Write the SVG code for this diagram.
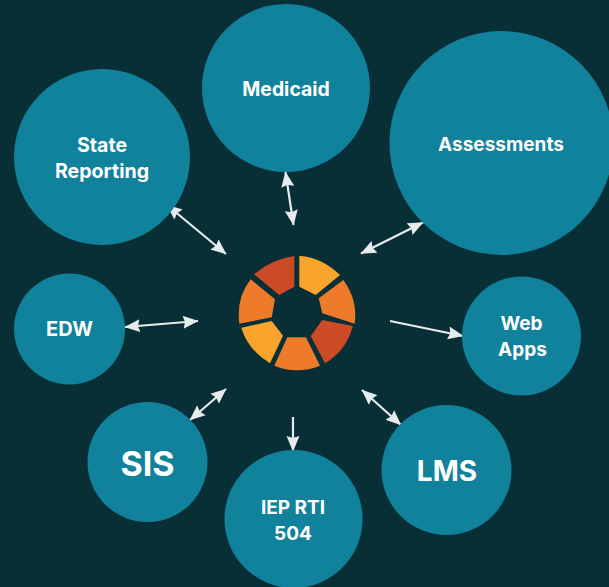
<svg xmlns="http://www.w3.org/2000/svg" width="609" height="587" viewBox="0 0 609 587">
<style>
.c{fill:#11829c}
.t{fill:#fff;font-family:"Inter","Liberation Sans",sans-serif;font-weight:700;text-anchor:middle}
.a{stroke:#e6eced;stroke-width:2.2;fill:none;marker-start:url(#h);marker-end:url(#h)}
.b{stroke:#e6eced;stroke-width:2.2;fill:none;marker-end:url(#h)}
.r{fill:#cc4a26}.o{fill:#ee7b2a}.y{fill:#f9a42c}
</style>
<defs>
<marker id="h" markerUnits="userSpaceOnUse" markerWidth="16" markerHeight="14" viewBox="0 0 16 14" refX="15" refY="7" orient="auto-start-reverse">
<path d="M0 0.5 L15.5 7 L0 13.5 L2 7Z" fill="#e6eced"/>
</marker>
</defs>
<rect width="609" height="587" fill="#082f36"/>
<g id="connectors">
<line class="a" x1="167" y1="205" x2="226" y2="254"/>
<line class="a" x1="285.5" y1="172" x2="293.5" y2="225"/>
<line class="a" x1="423" y1="222.5" x2="361" y2="253.5"/>
<line class="b" x1="390" y1="321" x2="463" y2="336"/>
<line class="a" x1="362" y1="390" x2="401" y2="425"/>
<line class="b" x1="293" y1="417" x2="293" y2="451"/>
<line class="a" x1="190" y1="420" x2="226" y2="389"/>
<line class="a" x1="125" y1="327" x2="198" y2="321"/>
</g>
<g id="medicaid"><circle class="c" cx="286" cy="88" r="84"/><text class="t" x="286" y="95.5" font-size="19.4">Medicaid</text></g>
<g id="assessments"><circle class="c" cx="501.5" cy="143" r="112"/><text class="t" x="501" y="151" font-size="19">Assessments</text></g>
<g id="state-reporting"><circle class="c" cx="102" cy="157" r="88"/><text class="t" x="102" y="152" font-size="19.6">State</text><text class="t" x="102" y="178" font-size="19.6">Reporting</text></g>
<g id="edw"><circle class="c" cx="69.5" cy="329" r="55.5"/><text class="t" x="69.5" y="336" font-size="20">EDW</text></g>
<g id="web-apps"><circle class="c" cx="521.5" cy="336" r="59.5"/><text class="t" x="521.5" y="330" font-size="19">Web</text><text class="t" x="522.5" y="356" font-size="19">Apps</text></g>
<g id="lms"><circle class="c" cx="446.5" cy="470" r="65"/><text class="t" x="447" y="481" font-size="28">LMS</text></g>
<g id="sis"><circle class="c" cx="147.5" cy="462" r="60"/><text class="t" x="147.5" y="476" font-size="34">SIS</text></g>
<g id="iep"><circle class="c" cx="293.5" cy="519" r="69"/><text class="t" x="293" y="514" font-size="19">IEP RTI</text><text class="t" x="293" y="540" font-size="19">504</text></g>
<g id="hub">
<path class="r" d="M254 274.3Q272 259 294.3 256V286.7L279.3 295Z"/>
<path class="y" d="M299.3 255.7Q323 258 340 275L315.7 295L299.3 286.7Z"/>
<path class="o" d="M343.3 280Q358 300 354.7 323.7L322.3 313.3L318.7 298.3Z"/>
<path class="r" d="M352.7 326Q347 350 325 363.3L310.7 336L322.3 320Z"/>
<path class="o" d="M320 365.7Q297 375 274.3 365.7L287.3 337.3H306Z"/>
<path class="y" d="M270 363.3Q248 350 241.3 327.7L271.7 321L283 335.7Z"/>
<path class="o" d="M239.3 323.7Q236 298 250.7 279.3L275 299.3L271.7 317.3Z"/>
</g>
</svg>
